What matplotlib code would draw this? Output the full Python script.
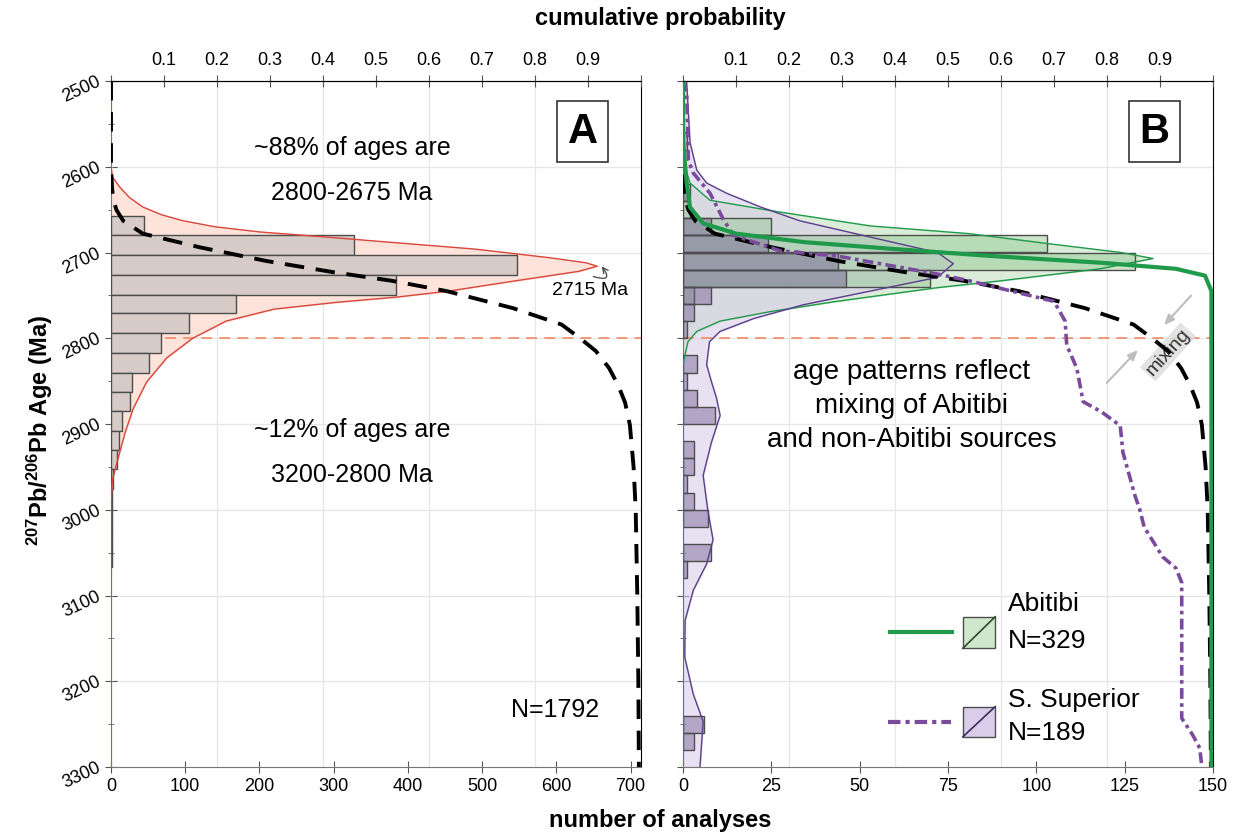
import numpy as np
import matplotlib
matplotlib.use('Agg')
import matplotlib.pyplot as plt
from matplotlib.patches import Rectangle
from matplotlib.ticker import MultipleLocator

plt.rcParams['font.family'] = ['Liberation Sans', 'DejaVu Sans']
plt.rcParams['mathtext.fontset'] = 'custom'
plt.rcParams['mathtext.rm'] = 'Liberation Sans'
plt.rcParams['mathtext.bf'] = 'Liberation Sans:bold'

# --- panel A: all detrital zircon ages -------------------------------------
a_edges = [2657, 2680, 2703, 2726, 2749, 2771, 2794, 2817, 2840, 2863,
           2885, 2908, 2930, 2953, 2976, 2999, 3021, 3044, 3067]
a_counts = [45, 328, 547, 384, 168, 105, 67, 51, 28, 26, 15, 11, 8,
            3, 2, 1, 1, 1]

# probability density (scaled to counts)
a_kde_age = [2500, 2600, 2612, 2624, 2636, 2647, 2656, 2663, 2670, 2676,
             2682, 2688, 2696, 2706, 2712, 2716, 2722, 2733, 2745, 2752,
             2758, 2766, 2780, 2800, 2823, 2851, 2882, 2910, 2945, 2965,
             2990, 3300]
a_kde_val = [0, 0, 2, 12, 25, 43, 68, 97, 140, 200,
             290, 375, 490, 590, 640, 655, 630, 545, 455, 385,
             305, 220, 155, 110, 75, 48, 30, 19, 8, 2,
             0, 0]

# cumulative probability of all ages
cum_age = [2500, 2600, 2625, 2637, 2650, 2663, 2678, 2694, 2710, 2723,
           2733, 2745, 2765, 2784, 2800, 2815, 2835, 2855, 2875, 2901,
           2950, 3000, 3100, 3200, 3300]
cum_val = [0.0, 0.0, 0.002, 0.004, 0.01, 0.023, 0.06, 0.168, 0.294, 0.42,
           0.53, 0.633, 0.759, 0.85, 0.885, 0.915, 0.94, 0.957, 0.97, 0.979,
           0.986, 0.99, 0.993, 0.995, 0.996]

# --- panel B: Abitibi vs southern Superior ---------------------------------
b_edges = list(range(2500, 3320, 20))
abitibi_counts = {2620: 2, 2640: 2, 2660: 25, 2680: 103, 2700: 128,
                  2720: 70, 2740: 3}
superior_counts = {2560: 1, 2620: 1, 2660: 8, 2680: 24, 2700: 44, 2720: 46,
                   2740: 8, 2760: 3, 2780: 1, 2820: 4, 2840: 1, 2860: 4,
                   2880: 9, 2920: 3, 2940: 3, 2960: 1, 2980: 3, 3000: 7,
                   3040: 8, 3060: 1, 3240: 6, 3260: 3}

abi_kde_age = [2500, 2600, 2619, 2639, 2651, 2669, 2678, 2690, 2700, 2707,
               2719, 2733, 2741, 2757, 2769, 2780, 2792, 2804, 2830, 3300]
abi_kde_val = [0, 0.5, 2, 7.6, 24.6, 53, 81, 104, 124, 133,
               118, 90, 72, 43.5, 24.6, 10.5, 3.9, 1.4, 0, 0]

sup_kde_age = [2500, 2572, 2604, 2619, 2631, 2647, 2663, 2682, 2700, 2713,
               2729, 2745, 2761, 2777, 2792, 2804, 2820, 2831, 2850, 2870,
               2890, 2922, 2960, 3000, 3035, 3063, 3094, 3129, 3172, 3215,
               3247, 3300]
sup_kde_val = [1, 2, 3.9, 6.7, 12.4, 22, 33, 53, 72, 76.5,
               72, 53, 34, 20, 10.5, 7.5, 7, 6.7, 8, 9.5,
               10.5, 8, 5.7, 7, 8.5, 6.7, 2.9, 0.6, 0.5, 2.9,
               5.7, 4.8]

abi_cum_age = [2500, 2572, 2619, 2647, 2666, 2678, 2688, 2696, 2704, 2712,
               2719, 2727, 2745, 3300]
abi_cum_val = [0, 0, 0.007, 0.013, 0.038, 0.1, 0.23, 0.40, 0.58, 0.79,
               0.93, 0.985, 0.997, 0.997]

sup_cum_age = [2500, 2513, 2592, 2607, 2631, 2660, 2680, 2698, 2704, 2725,
               2733, 2745, 2757, 2780, 2808, 2835, 2874, 2886, 2902, 2933,
               2984, 3000, 3020, 3040, 3055, 3068, 3085, 3243, 3263, 3278,
               3300]
sup_cum_val = [0, 0.007, 0.01, 0.019, 0.051, 0.075, 0.095, 0.183, 0.29, 0.479,
               0.54, 0.62, 0.70, 0.721, 0.724, 0.743, 0.755, 0.79, 0.825, 0.83,
               0.853, 0.862, 0.87, 0.89, 0.905, 0.93, 0.941, 0.941, 0.962, 0.975,
               0.979]

GREEN = '#1f9a4b'
PURPLE = '#7a4b9c'
SALMON = '#f0906f'


def style_axes(ax, xmax, xstep, left_labels):
    ax.set_ylim(3300, 2500)
    ax.set_xlim(0, xmax)
    ax.yaxis.set_major_locator(MultipleLocator(100))
    ax.yaxis.set_minor_locator(MultipleLocator(50))
    ax.xaxis.set_major_locator(MultipleLocator(xstep))
    ax.tick_params(axis='both', which='both', direction='inout', colors='#555555',
                   labelcolor='black', labelsize=13)
    ax.tick_params(axis='y', which='major', length=9)
    ax.tick_params(axis='y', which='minor', length=5)
    ax.tick_params(axis='x', length=9)
    ax.yaxis.grid(True, color='#e6e6e6', lw=0.9, zorder=0)
    for f in (0.2, 0.4, 0.6, 0.8):
        ax.axvline(f * xmax, color='#e6e6e6', lw=0.9, zorder=0)
    ax.spines['left'].set_color('#777777')
    ax.spines['bottom'].set_color('#777777')
    ax.spines['right'].set_color('black')
    ax.spines['top'].set_color('black')
    if left_labels:
        for lab in ax.get_yticklabels():
            lab.set_rotation(25)
            lab.set_rotation_mode('anchor')
            lab.set_ha('right')
            lab.set_va('center')
    else:
        ax.set_yticklabels([])
    ax.axhline(2800, color=SALMON, lw=1.3, ls=(0, (6, 4)), zorder=2.5)

    top = ax.twiny()
    top.set_xlim(0, 1)
    top.set_xticks(np.arange(0, 1.01, 0.1))
    top.set_xticklabels([''] + ['%.1f' % v for v in np.arange(0.1, 0.95, 0.1)] + [''])
    top.tick_params(axis='x', direction='inout', length=9, colors='#555555',
                    labelcolor='black', labelsize=13, pad=4)
    top.spines['top'].set_color('black')
    for s in ('left', 'right', 'bottom'):
        top.spines[s].set_visible(False)
    return top


fig = plt.figure(figsize=(12.4, 8.38), dpi=100)
W, H = 1240, 838
axA = fig.add_axes([111 / W, (H - 767) / H, 530 / W, 686 / H])
axB = fig.add_axes([683 / W, (H - 767) / H, 530 / W, 686 / H])

# ---------------- panel A ----------------
topA = style_axes(axA, 714, 100, True)
axA.fill_betweenx(a_kde_age, 0, a_kde_val, color='#fde3d9', zorder=2)
axA.plot(a_kde_val, a_kde_age, color='#d9463c', lw=1.0, zorder=4)
a_lo = np.array(a_edges[:-1])
a_w = np.diff(a_edges)
axA.barh(a_lo, a_counts, height=a_w, align='edge', color='#d6cbc6',
         edgecolor='#4d4d4d', lw=1.0, zorder=3)
topA.plot(cum_val, cum_age, color='black', lw=2.8, ls=(0, (5, 3)))

axA.text(0.455, 0.902, '~88% of ages are', transform=axA.transAxes,
         ha='center', va='center', fontsize=18)
axA.text(0.455, 0.837, '2800-2675 Ma', transform=axA.transAxes,
         ha='center', va='center', fontsize=18)
axA.text(0.455, 0.491, '~12% of ages are', transform=axA.transAxes,
         ha='center', va='center', fontsize=18)
axA.text(0.455, 0.426, '3200-2800 Ma', transform=axA.transAxes,
         ha='center', va='center', fontsize=18)
axA.text(0.838, 0.083, 'N=1792', transform=axA.transAxes,
         ha='center', va='center', fontsize=18)
axA.text(0.89, 0.926, 'A', transform=axA.transAxes, ha='center', va='center',
         fontsize=30, fontweight='bold',
         bbox=dict(boxstyle='square,pad=0.25', fc='white', ec='#333333', lw=1.2))
peak = int(np.argmax(a_kde_val))
axA.text(0.903, 0.695, '2715 Ma', transform=axA.transAxes,
         ha='center', va='center', fontsize=14)
axA.annotate('', xy=(a_kde_val[peak] + 5, 2715),
             xytext=(0.91, 0.715), textcoords='axes fraction',
             arrowprops=dict(arrowstyle='->', color='#444444', lw=0.9,
                             connectionstyle='arc3,rad=1.6',
                             shrinkA=0, shrinkB=1))

# ---------------- panel B ----------------
topB = style_axes(axB, 150, 25, False)
axB.fill_betweenx(abi_kde_age, 0, abi_kde_val, color='#cfe8cd', alpha=0.75, zorder=2)
axB.fill_betweenx(sup_kde_age, 0, sup_kde_val, color='#d9cde9', alpha=0.6, zorder=2)
axB.plot(abi_kde_val, abi_kde_age, color=GREEN, lw=1.0, zorder=5)
axB.plot(sup_kde_val, sup_kde_age, color='#5b3f8a', lw=1.0, zorder=5)

b_lo = np.array(b_edges[:-1])
abi = np.array([abitibi_counts.get(b, 0) for b in b_lo])
sup = np.array([superior_counts.get(b, 0) for b in b_lo])
axB.barh(b_lo[abi > 0], abi[abi > 0], height=20, align='edge',
         color=(0.55, 0.78, 0.55, 0.45), edgecolor='#4d4d4d', lw=1.0, zorder=3)
axB.barh(b_lo[sup > 0], sup[sup > 0], height=20, align='edge',
         color=(0.42, 0.32, 0.55, 0.42), edgecolor='#4d4d4d', lw=1.0, zorder=4)

topB.plot(cum_val, cum_age, color='black', lw=2.8, ls=(0, (5, 3)))
topB.plot(sup_cum_val, sup_cum_age, color=PURPLE, lw=2.6, ls=(0, (3, 1.2, 1, 1.2)))
topB.plot(abi_cum_val, abi_cum_age, color=GREEN, lw=3.0)

axB.text(0.89, 0.926, 'B', transform=axB.transAxes, ha='center', va='center',
         fontsize=30, fontweight='bold',
         bbox=dict(boxstyle='square,pad=0.25', fc='white', ec='#333333', lw=1.2))
for txt, fy in (('age patterns reflect', 0.576), ('mixing of Abitibi', 0.526),
                ('and non-Abitibi sources', 0.477)):
    axB.text(0.432, fy, txt, transform=axB.transAxes, ha='center', va='center',
             fontsize=20)

# mixing arrows
arrow_kw = dict(arrowstyle='-|>,head_length=0.6,head_width=0.25', color='#bdbdbd', lw=1.5)
axB.annotate('', xy=(0.862, 0.611), xytext=(0.796, 0.557),
             xycoords='axes fraction', arrowprops=arrow_kw, zorder=6)
axB.annotate('', xy=(0.904, 0.641), xytext=(0.962, 0.690),
             xycoords='axes fraction', arrowprops=arrow_kw, zorder=6)
axB.text(0.915, 0.605, 'mixing', transform=axB.transAxes, rotation=48,
         ha='center', va='center', fontsize=14, color='#333333', zorder=7,
         bbox=dict(boxstyle='square,pad=0.1', fc='#dedede', ec='none', alpha=0.85))

# legend
T = axB.transAxes
axB.plot([0.391, 0.508], [0.197, 0.197], color=GREEN, lw=3, transform=T, zorder=8)
axB.add_patch(Rectangle((0.528, 0.173), 0.061, 0.046, transform=T,
                        fc='#cfe8cd', ec='#4d4d4d', lw=1, zorder=8))
axB.plot([0.528, 0.589], [0.173, 0.219], color='#2b4a2b', lw=1.2, transform=T, zorder=9)
axB.text(0.613, 0.237, 'Abitibi', transform=T, ha='left', va='center', fontsize=19)
axB.text(0.613, 0.183, 'N=329', transform=T, ha='left', va='center', fontsize=19)

axB.plot([0.387, 0.505], [0.066, 0.066], color=PURPLE, lw=3, ls=(0, (3, 1.2, 1, 1.2)),
         transform=T, zorder=8)
axB.add_patch(Rectangle((0.528, 0.044), 0.061, 0.044, transform=T,
                        fc='#d9cde9', ec='#4d4d4d', lw=1, zorder=8))
axB.plot([0.528, 0.589], [0.044, 0.088], color='#3d2a5c', lw=1.2, transform=T, zorder=9)
axB.text(0.613, 0.098, 'S. Superior', transform=T, ha='left', va='center', fontsize=19)
axB.text(0.613, 0.049, 'N=189', transform=T, ha='left', va='center', fontsize=19)

# shared axis titles
fig.text(660 / W, 1 - 18 / H, 'cumulative probability', ha='center', va='center',
         fontsize=17, fontweight='bold')
fig.text(660 / W, 1 - 820 / H, 'number of analyses', ha='center', va='center',
         fontsize=17, fontweight='bold')
fig.text(40 / W, 1 - 430 / H, r'$\mathbf{^{207}}$Pb/$\mathbf{^{206}}$Pb Age (Ma)',
         rotation=90, ha='center', va='center', fontsize=17, fontweight='bold')

fig.savefig('out.png', dpi=100)
